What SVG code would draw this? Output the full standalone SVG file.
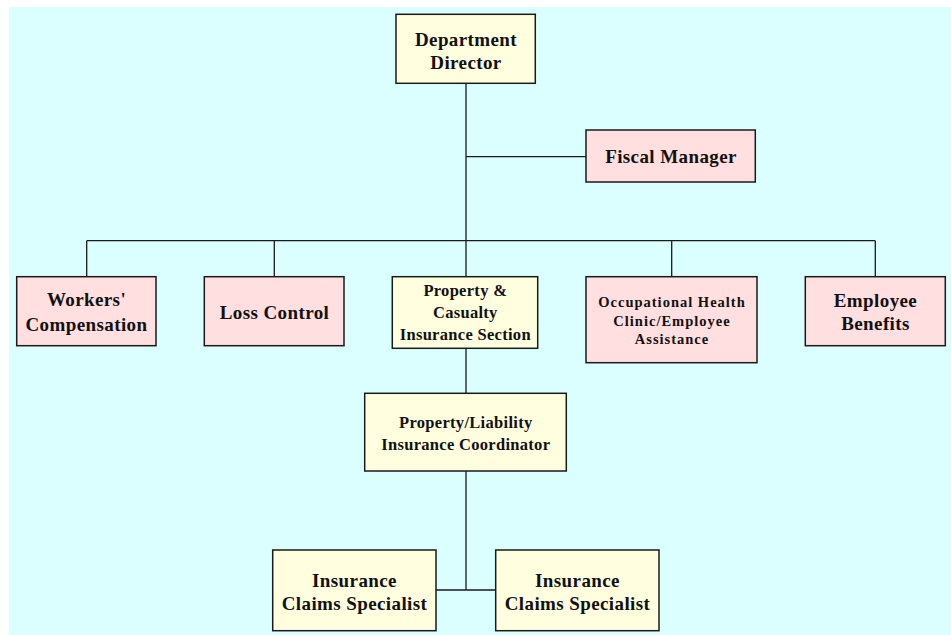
<svg xmlns="http://www.w3.org/2000/svg" width="951" height="635" viewBox="0 0 951 635">
<style>
.box{stroke:#1a1a1a;stroke-width:1.5}
.y{fill:#ffffe0}
.p{fill:#ffdfe0}
.ln{stroke:#1a1a1a;stroke-width:1.3;fill:none}
text{font-family:"Liberation Serif","Times New Roman",serif;font-weight:bold;fill:#111;text-anchor:middle}
.f19{font-size:19px;letter-spacing:0.4px}
.f17{font-size:16.5px;letter-spacing:0.3px}
.f15{font-size:14.5px;letter-spacing:1px}
</style>
<rect x="9" y="7" width="942" height="628" fill="#dbffff"/>
<g id="connectors">
<path class="ln" d="M466,83 V276.7 M466,156.7 H586 M86.7,240.7 H875.3 M86.7,240.7 V276.7 M274.3,240.7 V276.7 M671.7,240.7 V276.7 M875.3,240.7 V276.7 M466,348.3 V393.3 M466,471 V590 M436,590 H495.7"/>
</g>
<g id="director"><rect class="box y" x="396" y="14.3" width="139.3" height="69"/>
<text class="f19" x="466" y="46">Department</text><text class="f19" x="466" y="69">Director</text></g>
<g id="fiscal"><rect class="box p" x="586" y="130" width="169.3" height="52"/>
<text class="f19" x="671" y="163">Fiscal Manager</text></g>
<g id="workers"><rect class="box p" x="16.7" y="276.7" width="139.3" height="69"/>
<text class="f19" x="86.5" y="306">Workers'</text><text class="f19" x="86.5" y="330.5">Compensation</text></g>
<g id="loss"><rect class="box p" x="204.3" y="276.7" width="139.7" height="69"/>
<text class="f19" x="274.5" y="318.5">Loss Control</text></g>
<g id="property"><rect class="box y" x="392.3" y="276.7" width="145.4" height="71.6"/>
<text class="f17" x="465.3" y="296">Property &amp;</text><text class="f17" x="465.3" y="317.5">Casualty</text><text class="f17" x="465.3" y="340">Insurance Section</text></g>
<g id="occupational"><rect class="box p" x="586" y="276.7" width="171" height="86"/>
<text class="f15" x="672" y="306.5">Occupational Health</text><text class="f15" x="672" y="326">Clinic/Employee</text><text class="f15" x="672" y="344">Assistance</text></g>
<g id="benefits"><rect class="box p" x="805.3" y="276.7" width="140" height="69"/>
<text class="f19" x="875.5" y="306.5">Employee</text><text class="f19" x="875.5" y="330">Benefits</text></g>
<g id="coordinator"><rect class="box y" x="364.7" y="393.3" width="201.6" height="77.7"/>
<text class="f17" x="465.8" y="428">Property/Liability</text><text class="f17" x="465.8" y="450">Insurance Coordinator</text></g>
<g id="claims1"><rect class="box y" x="272.7" y="550" width="163.3" height="80.7"/>
<text class="f19" x="354.5" y="586.5">Insurance</text><text class="f19" x="354.5" y="610">Claims Specialist</text></g>
<g id="claims2"><rect class="box y" x="495.7" y="550" width="163.3" height="80.7"/>
<text class="f19" x="577.5" y="586.5">Insurance</text><text class="f19" x="577.5" y="610">Claims Specialist</text></g>
</svg>
